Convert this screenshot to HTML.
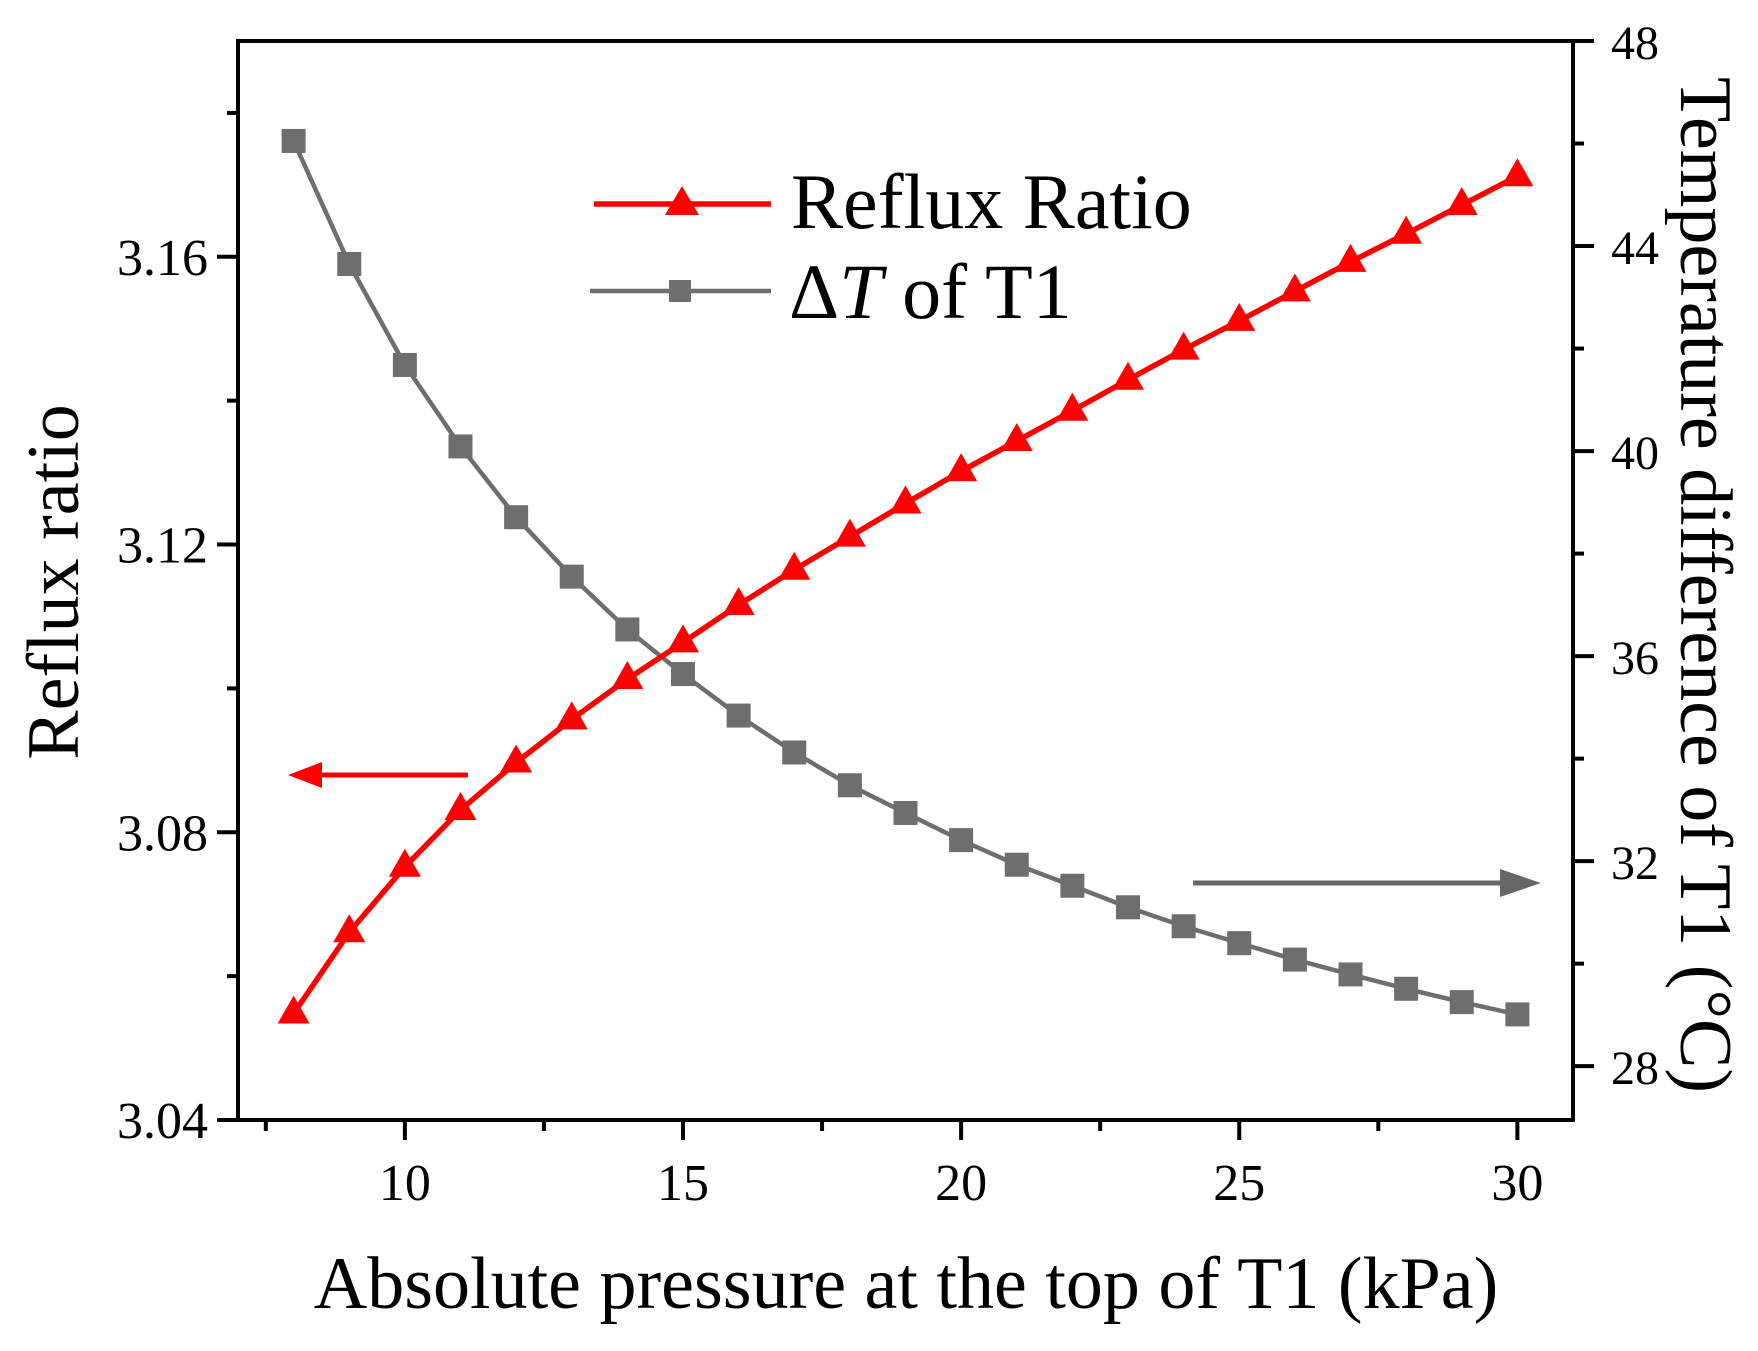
<!DOCTYPE html>
<html><head><meta charset="utf-8"><style>
html,body{margin:0;padding:0;background:#fff;}
svg{display:block;font-family:"Liberation Serif",serif;}
</style></head><body>
<svg id="chart" width="1758" height="1351" viewBox="0 0 1758 1351">
<g id="axes"></g>
<g id="series"></g>
<g id="legend">
  <line x1="594" y1="204" x2="771" y2="204" stroke="#ff0000" stroke-width="5.5"/>
  <polygon points="682,186 699,215 665,215" fill="#ff0000"/>
  <text x="791" y="228" font-size="78">Reflux Ratio</text>
  <line x1="590" y1="291" x2="771" y2="291" stroke="#6e6e6e" stroke-width="4.5"/>
  <rect x="669" y="280" width="22" height="22" fill="#6e6e6e"/>
  <text x="789" y="318" font-size="78">Δ<tspan font-style="italic">T</tspan> of T1</text>
</g>
<g>
  <line x1="468" y1="775" x2="315" y2="775" stroke="#ff0000" stroke-width="5"/>
  <polygon points="288,775 322,762 322,788" fill="#ff0000"/>
</g>
<g>
  <line x1="1193" y1="883" x2="1500" y2="883" stroke="#666" stroke-width="5"/>
  <polygon points="1541,883 1500,869 1500,897" fill="#666"/>
</g>
<text x="906" y="1308" font-size="74" text-anchor="middle">Absolute pressure at the top of T1 (kPa)</text>
<text transform="translate(78,582) rotate(-90)" font-size="74" text-anchor="middle">Reflux ratio</text>
<text transform="translate(1681,585) rotate(90)" font-size="74" text-anchor="middle">Temperature difference of T1 (°C)</text>
</svg>
<script>
const pressures=[8,9,10,11,12,13,14,15,16,17,18,19,20,21,22,23,24,25,26,27,28,29,30];
const refluxRatio=[3.0548,3.0661,3.0752,3.0831,3.0897,3.0957,3.1013,3.1064,3.1116,3.1165,3.1211,3.1257,3.1302,3.1344,3.1386,3.1429,3.1471,3.1511,3.1552,3.1593,3.1632,3.1672,3.1712];
const deltaT=[46.05,43.65,41.68,40.09,38.71,37.55,36.52,35.65,34.84,34.12,33.48,32.94,32.41,31.93,31.52,31.10,30.73,30.40,30.08,29.79,29.51,29.25,29.01];
const xTicks=[10,15,20,25,30];
const yLeftTicks=["3.04","3.08","3.12","3.16"];
const yRightTicks=["28","32","36","40","44","48"];

const L=238,R=1573,T=41,B=1120;
const xMin=7,xMax=31,yMin=3.04,yMax=3.19,y2Min=26.95,y2Max=48;
const xs=v=>L+(v-xMin)/(xMax-xMin)*(R-L);
const ys=v=>B-(v-yMin)/(yMax-yMin)*(B-T);
const ys2=v=>B-(v-y2Min)/(y2Max-y2Min)*(B-T);
const NS="http://www.w3.org/2000/svg";
function mk(tag,attrs,parent){const e=document.createElementNS(NS,tag);for(const k in attrs)e.setAttribute(k,attrs[k]);parent.appendChild(e);return e;}
const axes=document.getElementById('axes');
const series=document.getElementById('series');

let frame=mk('rect',{x:L,y:T,width:R-L,height:B-T,fill:'none',stroke:'#000','stroke-width':4},axes);



for(let v=7.5;v<=30.01;v+=2.5){
  const major=Math.abs(v%5)<1e-6;
  const t=mk('line',{x1:xs(v),x2:xs(v),y1:B,y2:B+(major?20:11),stroke:'#000','stroke-width':4},axes);
  
  
}
xTicks.forEach(v=>{
  const t=mk('text',{x:xs(v),y:B+80,'font-size':52,'text-anchor':'middle'},axes);
  t.textContent=v;
  
  
});
for(let v=3.04;v<=3.181;v+=0.02){
  const major=Math.round(v*100)%4===0;
  const t=mk('line',{x1:L,x2:L-(major?21:11),y1:ys(v),y2:ys(v),stroke:'#000','stroke-width':4},axes);
  
  
}
yLeftTicks.forEach(s=>{
  const t=mk('text',{x:L-30,y:ys(parseFloat(s))+18,'font-size':52,'text-anchor':'end'},axes);
  t.textContent=s;
  
  
});
for(let v=28;v<=48;v+=2){
  const major=v%4===0;
  const t=mk('line',{x1:R,x2:R+(major?21:11),y1:ys2(v),y2:ys2(v),stroke:'#000','stroke-width':4},axes);
  
  
}
yRightTicks.forEach(s=>{
  const t=mk('text',{x:R+38,y:ys2(parseFloat(s))+18,'font-size':48,'text-anchor':'start'},axes);
  t.textContent=s;
  
  
});

const gl=mk('polyline',{points:pressures.map((p,i)=>xs(p)+','+ys2(deltaT[i])).join(' '),fill:'none',stroke:'#6e6e6e','stroke-width':4.5},series);


pressures.forEach((p,i)=>{
  const r=mk('rect',{x:xs(p)-12,y:ys2(deltaT[i])-12,width:24,height:24,fill:'#6e6e6e'},series);
  
  
});
const rl=mk('polyline',{points:pressures.map((p,i)=>xs(p)+','+ys(refluxRatio[i])).join(' '),fill:'none',stroke:'#ff0000','stroke-width':5.5},series);


pressures.forEach((p,i)=>{
  const x=xs(p),y=ys(refluxRatio[i]);
  const t=mk('polygon',{points:`${x},${y-18} ${x+16},${y+10} ${x-16},${y+10}`,fill:'#ff0000'},series);
  
  
});
</script>
</body></html>
